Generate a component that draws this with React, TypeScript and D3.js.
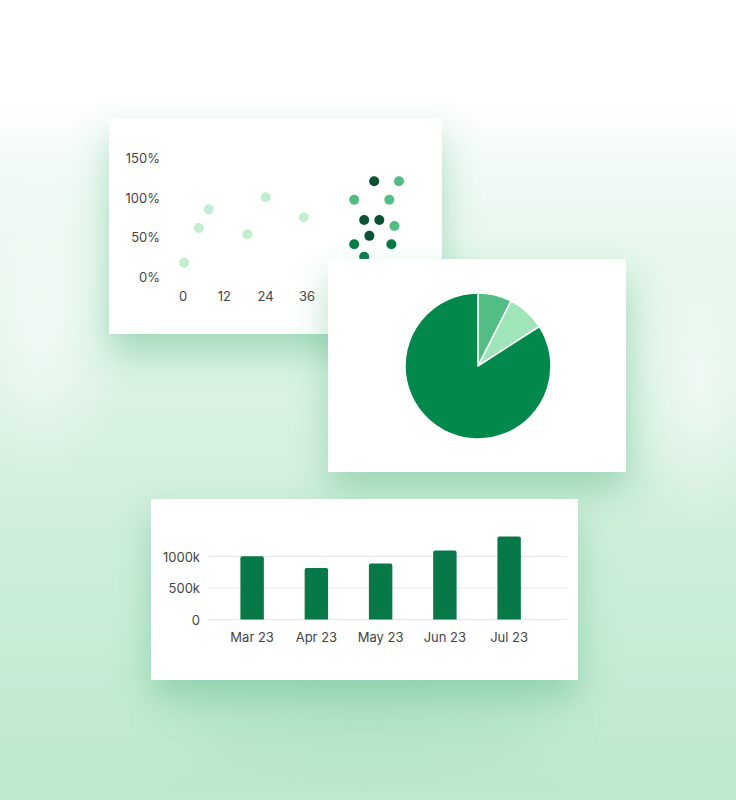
import React from 'react';
import * as d3 from 'd3';

// scatter card
const SCATTER_X_TICKS = [0, 12, 24, 36];
const SCATTER_Y_TICKS = [0, 50, 100, 150];
const LIGHT_POINTS: [number, number][] = [[0.3, 18], [4.6, 62], [7.5, 85.5], [18.7, 54], [24, 100.7], [35.1, 75.4]];
const DARK_POINTS: [number, number][] = [[55.5, 121], [52.6, 72], [57, 72], [54.1, 52]];
const MID_POINTS: [number, number][] = [[62.7, 121], [49.7, 97.7], [59.9, 97.7], [61.4, 64.4]];
const DEEP_POINTS: [number, number][] = [[49.7, 41.3], [60.5, 41.3], [52.6, 25.7]];

// pie card
const PIE_VALUES = [7.5, 8.4, 84.1];
const PIE_COLORS = ['#52be85', '#a0e4ba', '#02884a'];

// bar card
const MONTHS = ['Mar 23', 'Apr 23', 'May 23', 'Jun 23', 'Jul 23'];
const REVENUE_K = [1005, 819, 889, 1095, 1317];
const BAR_Y_TICKS = [0, 500, 1000];

const FONT = 'Inter, "Noto Sans", sans-serif';
const LABEL = '#444444';

export default function App() {
  const W = 736, H = 800;

  // scatter scales
  const sx = d3.scaleLinear().domain([0, 36]).range([183, 307]);
  const sy = d3.scaleLinear().domain([0, 150]).range([277, 158.3]);

  // pie
  const pie = d3.pie<number>().sort(null).value(d => d);
  const arcs = pie(PIE_VALUES);
  const arc = d3.arc<d3.PieArcDatum<number>>().innerRadius(0).outerRadius(73);

  // bars
  const bx = d3.scaleBand<string>().domain(MONTHS).range([220, 541.25]).paddingInner(0.635).paddingOuter(0.3175);
  const by = d3.scaleLinear().domain([0, 1500]).range([619.5, 525]);

  const barPath = (x: number, w: number, y0: number, y1: number, r = 2) =>
    `M${x},${y0}V${y1 + r}Q${x},${y1} ${x + r},${y1}H${x + w - r}Q${x + w},${y1} ${x + w},${y1 + r}V${y0}Z`;

  const dots = (pts: [number, number][], color: string, key: string) =>
    pts.map((p, i) => <circle key={key + i} cx={sx(p[0])} cy={sy(p[1])} r={5} fill={color} />);

  return (
    <svg width={W} height={H} viewBox={`0 0 ${W} ${H}`}
      style={{ position: 'absolute', left: 0, top: 0, display: 'block' }}>
      <defs>
        <linearGradient id="bg" x1="0" y1="0" x2="0" y2="1">
          <stop offset="0" stopColor="#ffffff" />
          <stop offset="0.12" stopColor="#ffffff" />
          <stop offset="0.24" stopColor="#eef9f2" />
          <stop offset="0.42" stopColor="#def4e6" />
          <stop offset="0.62" stopColor="#d2efdc" />
          <stop offset="0.82" stopColor="#c6ecd4" />
          <stop offset="1" stopColor="#bce8cd" />
        </linearGradient>
        <radialGradient id="glow" cx="0.5" cy="0.5" r="0.5">
          <stop offset="0" stopColor="#ffffff" stopOpacity="0.55" />
          <stop offset="1" stopColor="#ffffff" stopOpacity="0" />
        </radialGradient>
        <filter id="shadow" x="-40%" y="-40%" width="180%" height="200%">
          <feDropShadow dx="0" dy="18" stdDeviation="18" floodColor="#45ad74" floodOpacity="0.4" />
        </filter>
        <filter id="soft" x="-40%" y="-40%" width="180%" height="180%">
          <feGaussianBlur stdDeviation="30" />
        </filter>
      </defs>

      <rect width={W} height={H} fill="url(#bg)" />
      <ellipse cx={40} cy={330} rx={90} ry={160} fill="url(#glow)" />
      <ellipse cx={700} cy={380} rx={80} ry={150} fill="url(#glow)" />
      <ellipse cx={365} cy={720} rx={190} ry={40} fill="#9fd9b6" opacity={0.4} filter="url(#soft)" />

      {/* scatter card */}
      <rect x={109} y={118} width={333} height={216} fill="#fff" filter="url(#shadow)" />
      {SCATTER_Y_TICKS.map(t => (
        <text key={'sy' + t} x={160} y={sy(t)} textAnchor="end" dominantBaseline="central"
          fontFamily={FONT} fontSize={13} fill={LABEL}>{t}%</text>
      ))}
      {SCATTER_X_TICKS.map(t => (
        <text key={'sx' + t} x={sx(t)} y={296} textAnchor="middle" dominantBaseline="central"
          fontFamily={FONT} fontSize={13} fill={LABEL}>{t}</text>
      ))}
      {dots(LIGHT_POINTS, '#c4eed2', 'l')}
      {dots(MID_POINTS, '#52bd84', 'm')}
      {dots(DARK_POINTS, '#0b5234', 'd')}
      {dots(DEEP_POINTS, '#077a44', 'g')}

      {/* pie card */}
      <rect x={328} y={259} width={298} height={213} fill="#fff" filter="url(#shadow)" />
      <g transform="translate(478,366)">
        {arcs.map((a, i) => (
          <path key={'p' + i} d={arc(a) || ''} fill={PIE_COLORS[i]} stroke="#fff" strokeWidth={1.5} strokeLinejoin="round" />
        ))}
      </g>

      {/* bar card */}
      <rect x={151} y={499} width={427} height={181} fill="#fff" filter="url(#shadow)" />
      {BAR_Y_TICKS.map(t => (
        <g key={'by' + t}>
          <line x1={208} x2={567} y1={by(t)} y2={by(t)} stroke="#e4e7e9" strokeWidth={1} />
          <text x={200} y={by(t)} textAnchor="end" dominantBaseline="central"
            fontFamily={FONT} fontSize={13} fill={LABEL}>{t === 0 ? '0' : `${t}k`}</text>
        </g>
      ))}
      {MONTHS.map((m, i) => (
        <g key={m}>
          <path d={barPath(bx(m)!, bx.bandwidth(), by(0), by(REVENUE_K[i]))} fill="#077847" />
          <text x={bx(m)! + bx.bandwidth() / 2} y={637} textAnchor="middle" dominantBaseline="central"
            fontFamily={FONT} fontSize={13} fill={LABEL}>{m}</text>
        </g>
      ))}
    </svg>
  );
}
